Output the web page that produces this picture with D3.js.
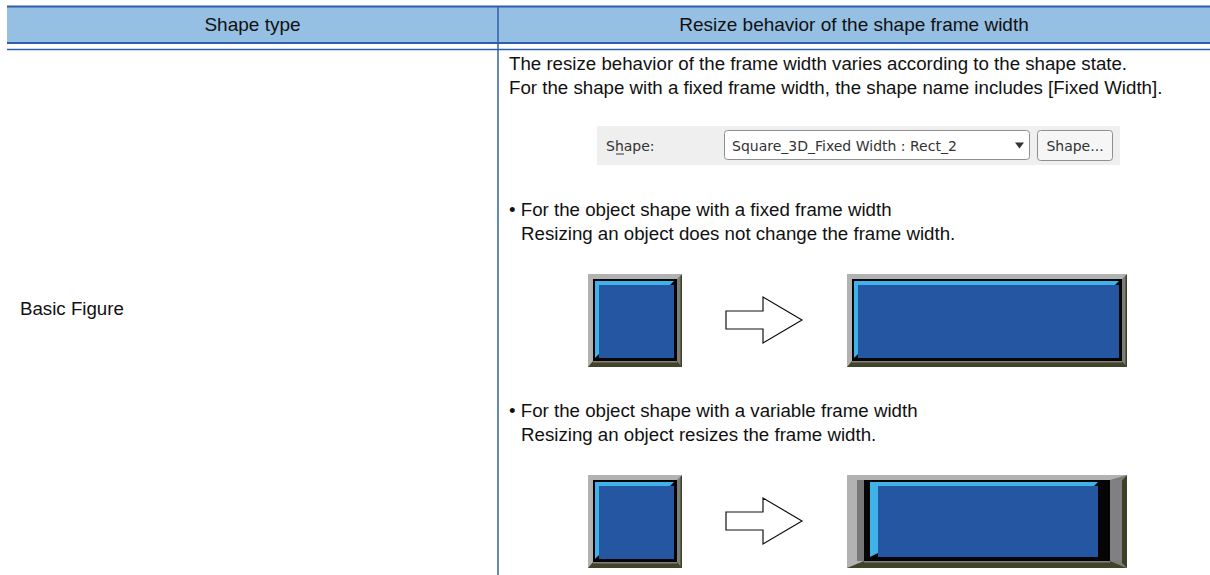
<!DOCTYPE html>
<html>
<head>
<meta charset="utf-8">
<script src="https://cdn.jsdelivr.net/npm/d3@7"></script>
<style>
html,body{margin:0;padding:0;background:#fff;}
svg{display:block;}
</style>
</head>
<body>
<svg id="c" width="1210" height="575"></svg>
<script>
// ---- content ----
const headers = ["Shape type", "Resize behavior of the shape frame width"];
const rowLabels = ["Basic Figure"];
const introLines = [
  "The resize behavior of the frame width varies according to the shape state.",
  "For the shape with a fixed frame width, the shape name includes [Fixed Width]."
];
const panelLabels = ["Shape:", "Square_3D_Fixed Width : Rect_2", "Shape..."];
const caseTitles = [
  "\u2022 For the object shape with a fixed frame width",
  "\u2022 For the object shape with a variable frame width"
];
const caseNotes = [
  "Resizing an object does not change the frame width.",
  "Resizing an object resizes the frame width."
];
const caseModes = ["fixed", "variable"];

// ---- layout ----
const H = 575;
const svg = d3.select("#c");
const colEdges = [7, 498, 1210];
const border = "#2f5fac";
const bodyFont = "'Liberation Sans', Arial, sans-serif";
const uiFont = "'DejaVu Sans', Verdana, sans-serif";
const FS = 18.7;

// header
svg.append("rect").attr("x", colEdges[0]).attr("y", 6).attr("width", colEdges[2] - colEdges[0]).attr("height", 37).attr("fill", "#95bfe3");
svg.append("line").attr("x1", colEdges[0]).attr("x2", colEdges[2]).attr("y1", 6.5).attr("y2", 6.5).attr("stroke", border).attr("stroke-width", 2);
svg.append("line").attr("x1", colEdges[0]).attr("x2", colEdges[2]).attr("y1", 43).attr("y2", 43).attr("stroke", border).attr("stroke-width", 2);
svg.append("line").attr("x1", colEdges[0]).attr("x2", colEdges[2]).attr("y1", 49.5).attr("y2", 49.5).attr("stroke", border).attr("stroke-width", 1.5);
svg.append("line").attr("x1", colEdges[1]).attr("x2", colEdges[1]).attr("y1", 6).attr("y2", H).attr("stroke", border).attr("stroke-width", 1.5);

svg.selectAll("text.hdr").data(headers).join("text").attr("class", "hdr")
  .attr("x", (d, i) => (colEdges[i] + colEdges[i + 1]) / 2).attr("y", 31)
  .attr("text-anchor", "middle").attr("font-family", bodyFont).attr("font-size", 19)
  .attr("fill", "#111").text(d => d);

// row label
svg.selectAll("text.rl").data(rowLabels).join("text").attr("class", "rl")
  .attr("x", 20).attr("y", 315).attr("font-family", bodyFont).attr("font-size", FS)
  .attr("fill", "#111").text(d => d);

// intro lines
svg.selectAll("text.intro").data(introLines).join("text").attr("class", "intro")
  .attr("x", 509).attr("y", (d, i) => 70 + i * 24).attr("font-family", bodyFont).attr("font-size", FS)
  .attr("fill", "#111").text(d => d);

// panel (screenshot of the property dialog)
const pg = svg.append("g");
pg.append("rect").attr("x", 597).attr("y", 126).attr("width", 523).attr("height", 39).attr("fill", "#efefef");
pg.append("text").attr("x", 606).attr("y", 151).attr("font-family", uiFont).attr("font-size", 14)
  .attr("fill", "#333").text(panelLabels[0]);
pg.append("line").attr("x1", 616).attr("x2", 624).attr("y1", 154).attr("y2", 154).attr("stroke", "#333").attr("stroke-width", 1);
pg.append("rect").attr("x", 724.5).attr("y", 130.5).attr("width", 305).attr("height", 29).attr("rx", 3)
  .attr("fill", "#fff").attr("stroke", "#8f8f8f");
pg.append("text").attr("x", 732).attr("y", 151).attr("font-family", uiFont).attr("font-size", 14)
  .attr("fill", "#333").text(panelLabels[1]);
pg.append("path").attr("d", "M1015,142.5 L1024,142.5 L1019.5,148.5 Z").attr("fill", "#333");
pg.append("rect").attr("x", 1037.5).attr("y", 130.5).attr("width", 75).attr("height", 30).attr("rx", 3)
  .attr("fill", "#f6f6f6").attr("stroke", "#8f8f8f");
pg.append("text").attr("x", 1075).attr("y", 151).attr("text-anchor", "middle").attr("font-family", uiFont).attr("font-size", 14)
  .attr("fill", "#333").text(panelLabels[2]);

// case texts
const caseBase = [216, 417];
caseModes.forEach((m, i) => {
  svg.append("text").attr("x", 509).attr("y", caseBase[i]).attr("font-family", bodyFont).attr("font-size", FS)
    .attr("fill", "#111").text(caseTitles[i]);
  svg.append("text").attr("x", 521).attr("y", caseBase[i] + 24).attr("font-family", bodyFont).attr("font-size", FS)
    .attr("fill", "#111").text(caseNotes[i]);
});

// bevel shape drawing
function shape(g, X, Y, w, h, o, k, b, variable) {
  g.append("rect").attr("x", X).attr("y", Y).attr("width", w).attr("height", h).attr("fill", "#b2b2b2");
  // right strip
  g.append("path").attr("d", `M${X + w},${Y} L${X + w},${Y + h} L${X + w - o.r},${Y + h - o.b} L${X + w - o.r},${Y + o.t} Z`).attr("fill", "#7c7c78");
  const ol = variable ? 5 : 1.5;
  g.append("path").attr("d", `M${X + w},${Y + 0.5} L${X + w},${Y + h} L${X + w - ol},${Y + h - ol} L${X + w - ol},${Y + ol + 0.5} Z`).attr("fill", "#3f3f26");
  // bottom strip
  g.append("path").attr("d", `M${X},${Y + h} L${X + w},${Y + h} L${X + w - o.r},${Y + h - o.b} L${X + o.l},${Y + h - o.b} Z`).attr("fill", "#43432a");
  g.append("rect").attr("x", X + o.l).attr("y", Y + h - o.b).attr("width", w - o.l - o.r).attr("height", Math.min(1.5, o.b)).attr("fill", "#808080");
  if (variable) {
    g.append("rect").attr("x", X + 10).attr("y", Y + o.t).attr("width", o.l - 10).attr("height", h - o.t - o.b).attr("fill", "#77777a");
    g.append("rect").attr("x", X + w - o.r).attr("y", Y + o.t).attr("width", o.r - 5).attr("height", h - o.t - o.b).attr("fill", "#808084");
  }
  const bx = X + o.l, by = Y + o.t, bw = w - o.l - o.r, bh = h - o.t - o.b;
  g.append("rect").attr("x", bx).attr("y", by).attr("width", bw).attr("height", bh).attr("fill", "#050505");
  const ix = bx + k.l, iy = by + k.t, iw = bw - k.l - k.r, ih = bh - k.t - k.b;
  const bl = variable ? 8 : b;
  g.append("path").attr("d", `M${ix},${iy} L${ix + iw},${iy} L${ix + iw - b},${iy + b} L${ix + bl},${iy + b} L${ix + bl},${iy + ih - b} L${ix},${iy + ih} Z`)
    .attr("fill", "#3fb2ea");
  g.append("rect").attr("x", ix + bl).attr("y", iy + b).attr("width", iw - bl).attr("height", ih - b).attr("fill", "#2456a1");
}

function arrow(g, cy) {
  const x0 = 726, x1 = 763, x2 = 802;
  g.append("path").attr("d", `M${x0},${cy - 9} L${x1},${cy - 9} L${x1},${cy - 23} L${x2},${cy} L${x1},${cy + 23} L${x1},${cy + 9} L${x0},${cy + 9} Z`)
    .attr("fill", "#fff").attr("stroke", "#111").attr("stroke-width", 1.2);
}

const thin = {l: 5, t: 5, r: 5, b: 6};
const kThin = {l: 2, t: 2, r: 3, b: 3};
const rowsY = [274, 475];
caseModes.forEach((m, i) => {
  const g = svg.append("g");
  const y0 = rowsY[i];
  shape(g, 588, y0, 94, 93, thin, kThin, 4, false);
  arrow(g, y0 + 46);
  if (m === "fixed") {
    shape(g, 847, y0, 280, 93, thin, kThin, 4, false);
  } else {
    shape(g, 847, y0, 280, 93, {l: 17, t: 5, r: 17, b: 7}, {l: 6, t: 2, r: 12, b: 4}, 4, true);
  }
});
</script>
</body>
</html>
